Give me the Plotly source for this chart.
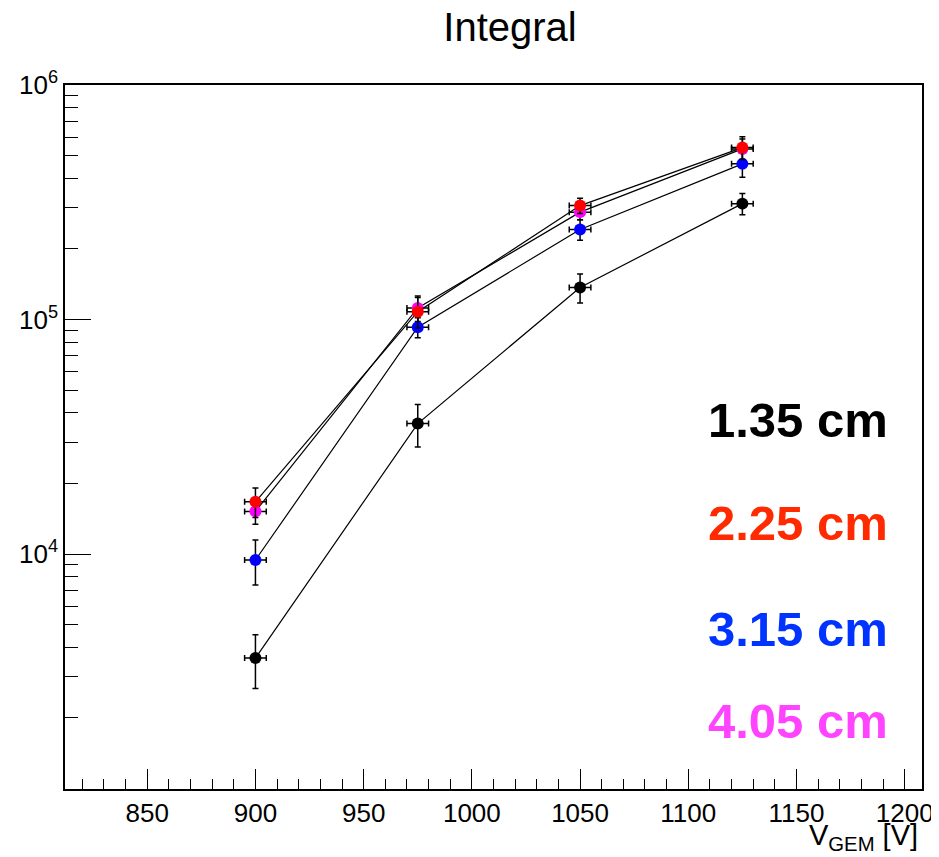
import plotly.graph_objects as go

# ---- data ----
v_gem = [900, 975, 1050, 1125]
v_err = [5, 5, 5, 5]

int_135 = [3600, 36000, 137000, 312000]
err_135 = [930, 7400, 19500, 32500]
int_225 = [16700, 108000, 306000, 541000]
err_225 = [2400, 16000, 23000, 60000]
int_315 = [9430, 92700, 242000, 461000]
err_315 = [2050, 9000, 24000, 57000]
int_405 = [15200, 112000, 287000, 534000]
err_405 = [1800, 14000, 21000, 55000]

labels = ["1.35 cm", "2.25 cm", "3.15 cm", "4.05 cm"]
marker_colors = ["#000000", "#ff0000", "#0000ff", "#ff00ff"]
text_colors = ["#000000", "#ff2a00", "#0033ff", "#ff44ff"]

y_major = [1e4, 1e5, 1e6]
y_major_text = ["10<sup>4</sup>", "10<sup>5</sup>", "10<sup>6</sup>"]
y_minor = [m * 10 ** e for e in range(3, 6) for m in range(2, 10)]
x_major = [850, 900, 950, 1000, 1050, 1100, 1150, 1200]

FONT = "Liberation Sans, Arial, Helvetica, sans-serif"

fig = go.Figure()

series = [
    (int_135, err_135, 0),
    (int_405, err_405, 3),
    (int_315, err_315, 2),
    (int_225, err_225, 1),
]
for vals, errs, idx in series:
    fig.add_trace(go.Scatter(
        x=v_gem, y=vals, mode="lines+markers", name=labels[idx],
        line=dict(color="black", width=1.2),
        marker=dict(color=marker_colors[idx], size=12, line=dict(width=0)),
        error_y=dict(type="data", array=errs, color="black", thickness=1.5, width=3),
        error_x=dict(type="data", array=v_err, color="black", thickness=1.5, width=3),
        showlegend=False,
    ))

ann_y = [0.5213, 0.375, 0.2244, 0.09375]
annotations = []
for i in range(4):
    annotations.append(dict(
        text="<b>%s</b>" % labels[i], xref="paper", yref="paper",
        x=0.7526, y=ann_y[i], xanchor="left", yanchor="middle",
        xshift=-4, yshift=2,
        showarrow=False, font=dict(family=FONT, size=49, color=text_colors[i]),
    ))
annotations.append(dict(
    text="V<sub>GEM</sub> [V]", xref="paper", yref="paper",
    x=1.0, y=-0.0966, xanchor="right", yanchor="bottom", xshift=-2,
    showarrow=False, font=dict(family=FONT, size=29, color="black"),
))

# the page adds an 8px body margin, so the figure is sized to fit inside it
fig.update_layout(
    width=931, height=849,
    margin=dict(l=57, r=17, t=77, b=68, autoexpand=False),
    paper_bgcolor="white", plot_bgcolor="white",
    font=dict(family=FONT, color="black"),
    title=dict(text="Integral", x=0.5392, xref="container", xanchor="center",
               y=0.9776, yref="container", yanchor="middle",
               font=dict(family=FONT, size=40, color="black")),
    annotations=annotations,
    xaxis=dict(
        range=[812, 1208], showgrid=False, zeroline=False, automargin=False,
        showline=True, linecolor="black", linewidth=1.5, mirror=True,
        tickmode="array", tickvals=x_major,
        ticks="inside", ticklen=20, tickwidth=1.3, tickcolor="black",
        tickfont=dict(family=FONT, size=26, color="black"),
        minor=dict(tickmode="linear", tick0=810, dtick=10, ticks="inside",
                   ticklen=10, tickwidth=1.3, tickcolor="black", showgrid=False),
    ),
    yaxis=dict(
        type="log", range=[2.998, 6.0], showgrid=False, zeroline=False, automargin=False,
        showline=True, linecolor="black", linewidth=1.5, mirror=True,
        tickmode="array", tickvals=y_major, ticktext=y_major_text,
        ticks="inside", ticklen=26, tickwidth=1.3, tickcolor="black",
        tickfont=dict(family=FONT, size=26, color="black"),
        minor=dict(tickmode="array", tickvals=y_minor, ticks="inside",
                   ticklen=13, tickwidth=1.3, tickcolor="black", showgrid=False),
    ),
)

fig.write_html("out.html")
